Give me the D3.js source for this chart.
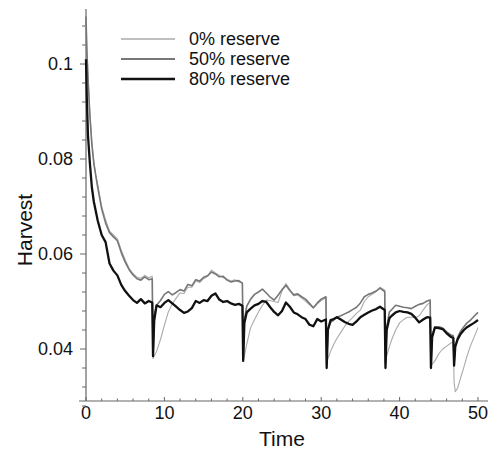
<!DOCTYPE html>
<html>
<head>
<meta charset="utf-8">
<script src="https://cdn.jsdelivr.net/npm/d3@7"></script>
<style>
  body { margin: 0; background: #fff; }
  svg { font-family: "Liberation Sans", Arial, sans-serif; }
</style>
</head>
<body>
<div id="chart"></div>
<script>
// time points (shared by all three runs)
const time = [
  0, 0.1, 0.25, 0.5, 0.75, 1, 1.25, 1.5, 2, 2.5, 3, 3.5, 4, 4.5, 5, 5.5, 6, 6.5, 7, 7.5, 8, 8.45,
  8.55, 8.7, 9, 9.5, 10, 10.5, 11, 11.5, 12, 12.5, 13, 13.5, 14, 14.5, 15, 15.5, 16, 16.5, 17, 17.5, 18, 18.5, 19, 19.5, 19.95,
  20.05, 20.2, 20.5, 21, 21.5, 22, 22.5, 23, 23.5, 24, 24.5, 25, 25.5, 26, 26.5, 27, 27.5, 28, 28.5, 29, 29.5, 30, 30.6,
  30.7, 30.85, 31.2, 31.6, 32, 32.5, 33, 33.5, 34, 34.5, 35, 35.5, 36, 36.5, 37, 37.5, 38.1,
  38.2, 38.35, 38.7, 39, 39.5, 40, 40.5, 41, 41.5, 42, 42.5, 43, 43.5, 43.9,
  44.0, 44.15, 44.5, 45, 45.5, 46, 46.5, 46.85,
  46.95, 47.1, 47.4, 47.8, 48.2, 48.6, 49, 49.5, 50
];

const reserve0 = [
  .111, .104, .098, .0895, .0835, .0795, .0765, .0745, .070, .0672, .0648, .0640, .0632, .0608, .0588, .0570, .0559, .0551, .0549, .0555, .0550, .0553,
  .0380, .0385, .0395, .0420, .0450, .0478, .0495, .0507, .0518, .0517, .0530, .0530, .0543, .0540, .0548, .0553, .0566, .0560, .0555, .0550, .0547, .0543, .0546, .0541, .0540,
  .0375, .0385, .0410, .0445, .0462, .0478, .0492, .0503, .0502, .0500, .0498, .0522, .0538, .0525, .0512, .0514, .0507, .0501, .0493, .0486, .0495, .0502, .0508,
  .0370, .0380, .0395, .0410, .0422, .0435, .0448, .0458, .0466, .0475, .0482, .0500, .0510, .0515, .0521, .0530, .0524,
  .0372, .0385, .0405, .0420, .0440, .0455, .0462, .0467, .0467, .0466, .0470, .0482, .0493, .0498,
  .0365, .0368, .0375, .0390, .0400, .0406, .0412, .0415,
  .0330, .0310, .0318, .0340, .0362, .0385, .0405, .0425, .0445
];

const reserve50 = [
  .110, .103, .097, .089, .083, .079, .0765, .074, .0695, .0665, .0645, .0636, .0628, .0603, .0583, .0567, .0556, .0548, .0545, .0552, .0546, .0548,
  .0385, .0470, .0492, .0502, .0515, .0521, .0514, .0519, .0525, .0522, .0536, .0533, .0546, .0543, .0551, .0554, .0562, .0558, .0552, .0553, .0545, .0541, .0543, .0544, .0538,
  .0378, .0460, .0490, .0505, .0515, .0520, .0526, .0518, .0509, .0503, .0513, .0525, .0534, .0523, .0514, .0516, .0510, .0505, .0496, .0487, .0497, .0505, .0510,
  .0368, .0440, .0456, .0461, .0467, .0470, .0474, .0478, .0483, .0488, .0497, .0510, .0515, .0518, .0522, .0528, .0521,
  .0368, .0445, .0478, .0483, .0492, .0490, .0488, .0487, .0485, .0490, .0494, .0496, .0501, .0503,
  .0370, .0428, .0447, .0447, .0444, .0436, .0430, .0428,
  .0370, .0405, .0425, .0438, .0447, .0455, .0460, .0469, .0477
];

const reserve80 = [
  .101, .093, .085, .079, .074, .071, .069, .067, .064, .0625, .058, .0565, .0555, .0535, .0522, .0512, .0503, .0497, .0505, .0496, .0501, .0498,
  .0385, .0460, .0492, .0488, .0497, .0503, .0496, .0489, .0482, .0476, .0479, .0486, .0501, .0497, .0503, .0501, .0512, .0517, .0504, .0499, .0501, .0496, .0493, .0495, .0491,
  .0375, .0455, .0477, .0485, .0492, .0495, .0501, .0499, .0488, .0478, .0471, .0480, .0498, .0489, .0477, .0473, .0467, .0463, .0451, .0448, .0463, .0458, .0462,
  .0360, .0440, .0461, .0463, .0467, .0462, .0457, .0453, .0451, .0458, .0467, .0472, .0477, .0481, .0484, .0489, .0482,
  .0360, .0440, .0465, .0470, .0477, .0480, .0478, .0477, .0474, .0466, .0456, .0462, .0467, .0466,
  .0360, .0425, .0445, .0444, .0442, .0433, .0426, .0423,
  .0365, .0405, .0420, .0432, .0440, .0446, .0450, .0455, .0461
];

const seriesNames = ["0% reserve", "50% reserve", "80% reserve"];
const xMajor = [0, 10, 20, 30, 40, 50];
const yMajor = [0.04, 0.06, 0.08, 0.1];
const yLabels = ["0.04", "0.06", "0.08", "0.1"];

const width = 488, height = 451;
const svg = d3.select("#chart").append("svg")
  .attr("width", width)
  .attr("height", height);

const x = d3.scaleLinear().domain([0, 50]).range([86, 478]);
const y = d3.scaleLinear().domain([0.04, 0.1]).range([349, 64]);
const axisY = 401, axisTop = 9;

const axisColor = "#666";

// axis lines
svg.append("line")
  .attr("x1", 79).attr("x2", 488)
  .attr("y1", axisY).attr("y2", axisY)
  .attr("stroke", axisColor).attr("stroke-width", 1.2);
svg.append("line")
  .attr("x1", x(0)).attr("x2", x(0))
  .attr("y1", axisTop).attr("y2", axisY)
  .attr("stroke", axisColor).attr("stroke-width", 1.2);

// x ticks
const xMinor = d3.range(0, 52, 2);
svg.append("g").selectAll("line")
  .data(xMinor)
  .enter().append("line")
  .attr("x1", d => x(d)).attr("x2", d => x(d))
  .attr("y1", axisY).attr("y2", d => axisY - (d % 10 === 0 ? 4 : 2.5))
  .attr("stroke", axisColor);

svg.append("g").selectAll("text")
  .data(xMajor)
  .enter().append("text")
  .attr("x", d => x(d))
  .attr("y", 419)
  .attr("text-anchor", "middle")
  .attr("font-size", 18)
  .attr("fill", "#111")
  .text(d => d);

// y ticks
const yMinor = d3.range(28, 112, 4).map(d => d / 1000);
svg.append("g").selectAll("line")
  .data(yMinor)
  .enter().append("line")
  .attr("x1", x(0)).attr("x2", d => x(0) - (yMajor.some(m => Math.abs(m - d) < 1e-9) ? 6 : 4))
  .attr("y1", d => y(d)).attr("y2", d => y(d))
  .attr("stroke", axisColor);

svg.append("g").selectAll("text")
  .data(yMajor)
  .enter().append("text")
  .attr("x", 73)
  .attr("y", d => y(d) + 6)
  .attr("text-anchor", "end")
  .attr("font-size", 18)
  .attr("fill", "#111")
  .text((d, i) => yLabels[i]);

// axis titles
svg.append("text")
  .attr("x", 282).attr("y", 446)
  .attr("text-anchor", "middle")
  .attr("font-size", 21)
  .attr("fill", "#111")
  .text("Time");

svg.append("text")
  .attr("transform", "translate(32,230) rotate(-90)")
  .attr("text-anchor", "middle")
  .attr("font-size", 21)
  .attr("fill", "#111")
  .text("Harvest");

// lines
const styles = [
  { color: "#aaaaaa", w: 1.1 },
  { color: "#777777", w: 1.6 },
  { color: "#111111", w: 2.3 }
];
const seriesValues = [reserve0, reserve50, reserve80];

const line = d3.line()
  .x(d => x(d[0]))
  .y(d => y(d[1]));

seriesValues.forEach((vals, i) => {
  svg.append("path")
    .datum(time.map((t, j) => [t, vals[j]]))
    .attr("fill", "none")
    .attr("stroke", styles[i].color)
    .attr("stroke-width", styles[i].w)
    .attr("stroke-linejoin", "round")
    .attr("d", line);
});

// legend
const legendY = [39, 59, 79];
seriesNames.forEach((name, i) => {
  svg.append("line")
    .attr("x1", 121).attr("x2", 175)
    .attr("y1", legendY[i]).attr("y2", legendY[i])
    .attr("stroke", styles[i].color)
    .attr("stroke-width", styles[i].w + 0.3);
  svg.append("text")
    .attr("x", 189).attr("y", legendY[i] + 6)
    .attr("font-size", 18)
    .attr("fill", "#111")
    .text(name);
});
</script>
</body>
</html>
